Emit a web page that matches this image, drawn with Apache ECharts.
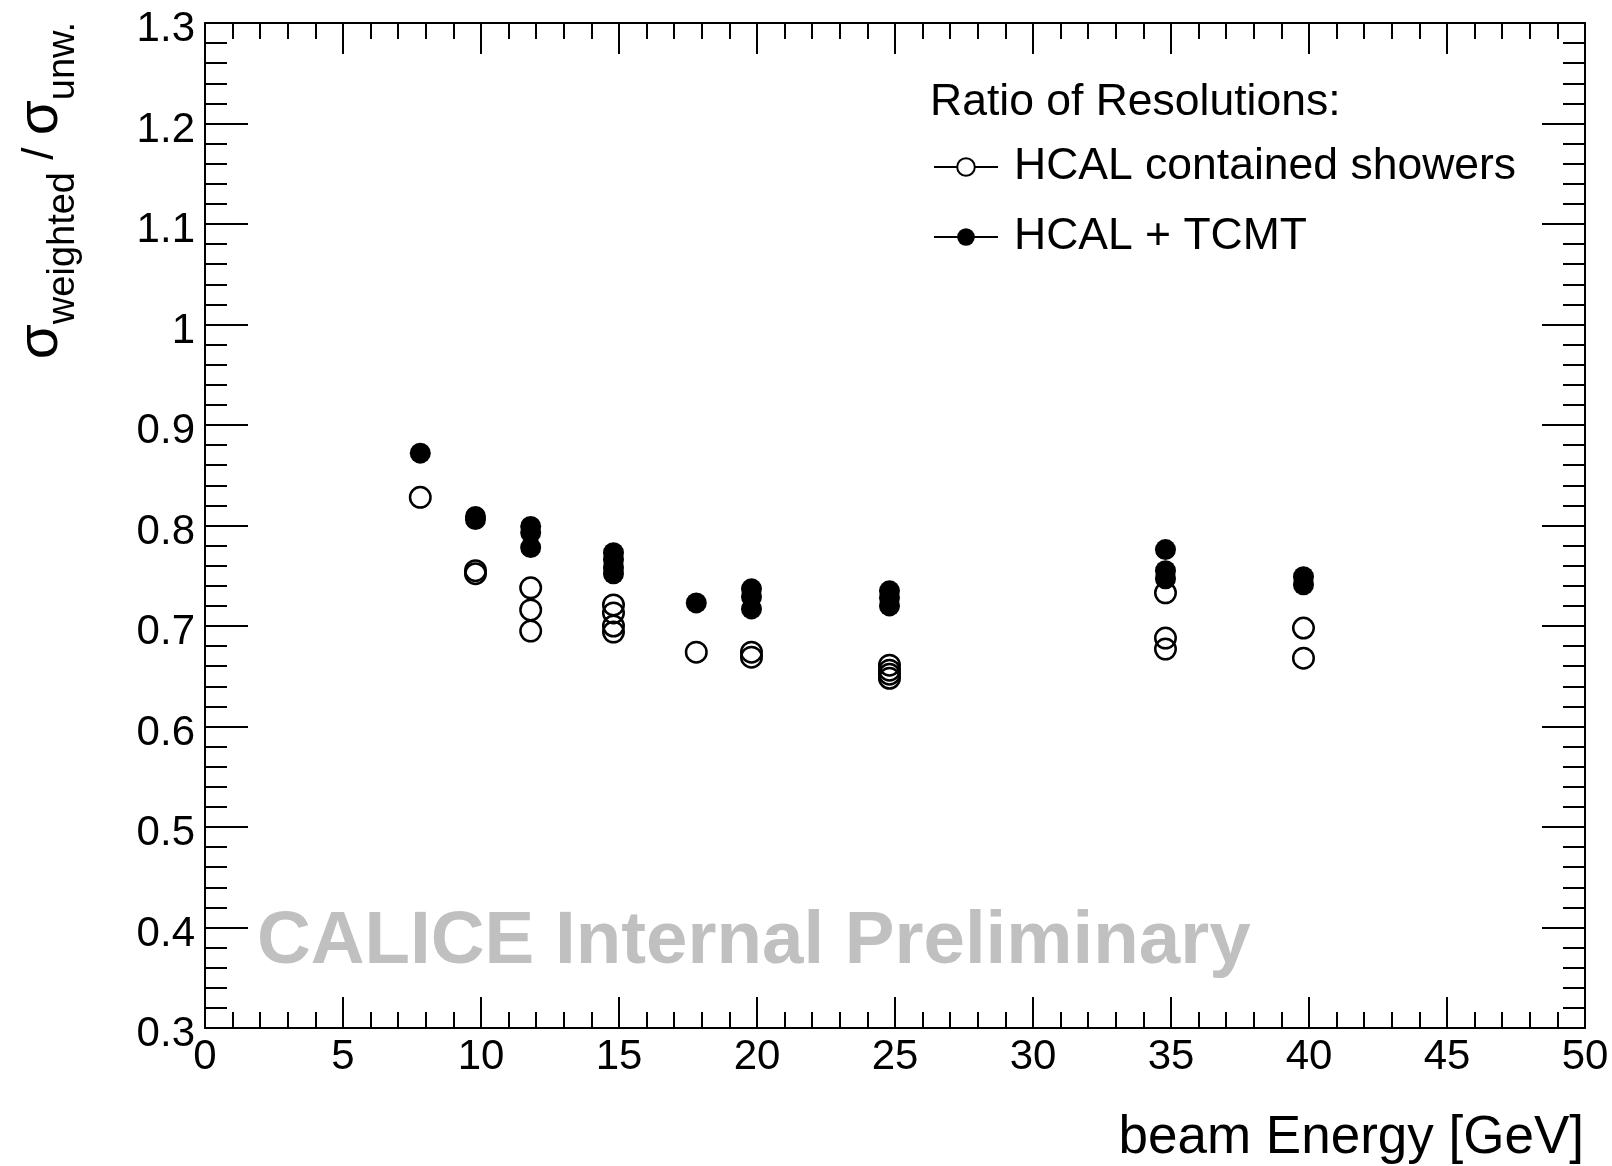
<!DOCTYPE html>
<html>
<head>
<meta charset="utf-8">
<script src="https://cdn.jsdelivr.net/npm/echarts@6/dist/echarts.min.js"></script>
<style>
    html, body { margin: 0; padding: 0; background: #fff; }
    #chart { width: 1612px; height: 1166px; }
</style>
</head>
<body>
<div id="chart"></div>
<script>
// beam energies [GeV] and resolution ratios
const energyHcal = [7.8, 9.8, 9.8, 11.8, 11.8, 11.8, 14.8, 14.8, 14.8, 14.8, 17.8,
    19.8, 19.8, 24.8, 24.8, 24.8, 24.8, 34.8, 34.8, 34.8, 39.8, 39.8];
const ratioHcal = [0.828, 0.755, 0.752, 0.738, 0.716, 0.695, 0.721, 0.713, 0.700, 0.694, 0.674,
    0.674, 0.669, 0.661, 0.656, 0.652, 0.648, 0.733, 0.688, 0.677, 0.698, 0.668];

const energyTcmt = [7.8, 9.8, 9.8, 11.8, 11.8, 11.8, 14.8, 14.8, 14.8, 14.8, 17.8,
    19.8, 19.8, 19.8, 24.8, 24.8, 24.8, 34.8, 34.8, 34.8, 39.8, 39.8];
const ratioTcmt = [0.872, 0.809, 0.806, 0.799, 0.793, 0.778, 0.773, 0.766, 0.758, 0.752, 0.723,
    0.737, 0.729, 0.717, 0.735, 0.728, 0.720, 0.776, 0.755, 0.747, 0.749, 0.741];

const seriesNames = ["HCAL contained showers", "HCAL + TCMT"];
const legendTitle = "Ratio of Resolutions:";
const watermark = "CALICE Internal Preliminary";
const xTitle = "beam Energy [GeV]";

// axis ranges (ticks come from these)
const xRange = { min: 0, max: 50, interval: 5 };
const yRange = { min: 0.3, max: 1.3, interval: 0.1 };

const FONT = "'Liberation Sans', Arial, Helvetica, sans-serif";

const toPairs = (xs, ys) => xs.map((x, i) => [x, ys[i]]);

const frameAxis = (range, position, tickLen, minorLen) => {
    return {
        type: "value",
        position: position,
        min: range.min,
        max: range.max,
        interval: range.interval,
        axisLine: { show: true, onZero: false, lineStyle: { color: "#000", width: 2 } },
        axisTick: { show: true, inside: true, length: tickLen, lineStyle: { color: "#000", width: 2 } },
        minorTick: { show: true, splitNumber: 5, length: minorLen, lineStyle: { color: "#000", width: 2 } },
        splitLine: { show: false },
        minorSplitLine: { show: false },
        axisLabel: { show: false }
    };
};

let chart = echarts.init(document.getElementById("chart"), null, { renderer: "canvas" });

const xBottom = frameAxis(xRange, "bottom", 31, 16);
xBottom.axisLabel = {
    show: true,
    showMinLabel: true,
    showMaxLabel: true,
    color: "#000",
    fontFamily: FONT,
    fontSize: 42,
    margin: 8
};
const xTop = frameAxis(xRange, "top", 31, 16);

const yLeft = frameAxis(yRange, "left", 43, 22);
yLeft.axisLabel = {
    show: true,
    showMinLabel: true,
    showMaxLabel: true,
    color: "#000",
    fontFamily: FONT,
    fontSize: 42,
    margin: 10,
    // ROOT draws the labels a little below the tick
    formatter: value => "{v|" + value + "}",
    rich: {
        v: { fontFamily: FONT, fontSize: 42, lineHeight: 42, padding: [13, 0, 0, 0], color: "#000" }
    }
};
const yRight = frameAxis(yRange, "right", 43, 22);

let option = {
    backgroundColor: "#fff",
    animation: false,
    grid: {
        left: 205,
        right: 27,
        top: 23,
        bottom: 138,
        outerBoundsMode: "none"
    },
    xAxis: [xBottom, xTop],
    yAxis: [yLeft, yRight],
    legend: {
        orient: "vertical",
        left: 933,
        top: 142,
        padding: 0,
        itemGap: 20,
        itemWidth: 64,
        itemHeight: 22,
        selectedMode: false,
        lineStyle: { color: "#000", width: 2, opacity: 1 },
        textStyle: {
            color: "#000",
            fontFamily: FONT,
            fontSize: 44.5,
            lineHeight: 50,
            padding: [0, 0, 0, 11]
        },
        data: [
            { name: seriesNames[0], itemStyle: { color: "#fff", borderColor: "#000", borderWidth: 2 } },
            { name: seriesNames[1], itemStyle: { color: "#000" } }
        ]
    },
    graphic: [
        {
            type: "text",
            x: 257,
            y: 942,
            z: 0,
            silent: true,
            style: {
                text: watermark,
                fill: "#c0c0c0",
                font: "bold 74.5px " + FONT,
                align: "left",
                verticalAlign: "middle"
            }
        },
        {
            type: "text",
            x: 930,
            y: 103,
            silent: true,
            style: {
                text: legendTitle,
                fill: "#000",
                font: "44.5px " + FONT,
                align: "left",
                verticalAlign: "middle"
            }
        },
        {
            type: "text",
            x: 1584,
            y: 1138,
            silent: true,
            style: {
                text: xTitle,
                fill: "#000",
                font: "53px " + FONT,
                align: "right",
                verticalAlign: "middle"
            }
        },
        {
            type: "text",
            x: 41,
            y: 22,
            rotation: Math.PI / 2,
            silent: true,
            style: {
                text: "{s|σ}{sub|weighted}{sl| / }{s|σ}{sub|unw.}",
                fill: "#000",
                align: "right",
                verticalAlign: "middle",
                rich: {
                    s: { fontFamily: FONT, fontSize: 57, lineHeight: 70, fill: "#000" },
                    sl: { fontFamily: FONT, fontSize: 44, lineHeight: 70, fill: "#000" },
                    sub: { fontFamily: FONT, fontSize: 38, lineHeight: 24, padding: [46, 0, 0, 0], fill: "#000" }
                }
            }
        }
    ],
    series: [
        {
            name: seriesNames[0],
            type: "line",
            data: toPairs(energyHcal, ratioHcal),
            symbol: "circle",
            symbolSize: 20.5,
            showSymbol: true,
            itemStyle: { color: "transparent", borderColor: "#000", borderWidth: 2.5 },
            lineStyle: { opacity: 0 },
            emphasis: { disabled: true },
            silent: true,
            z: 3
        },
        {
            name: seriesNames[1],
            type: "line",
            data: toPairs(energyTcmt, ratioTcmt),
            symbol: "circle",
            symbolSize: 21,
            showSymbol: true,
            itemStyle: { color: "#000" },
            lineStyle: { opacity: 0 },
            emphasis: { disabled: true },
            silent: true,
            z: 4
        }
    ]
};

chart.setOption(option, true);
</script>
</body>
</html>
